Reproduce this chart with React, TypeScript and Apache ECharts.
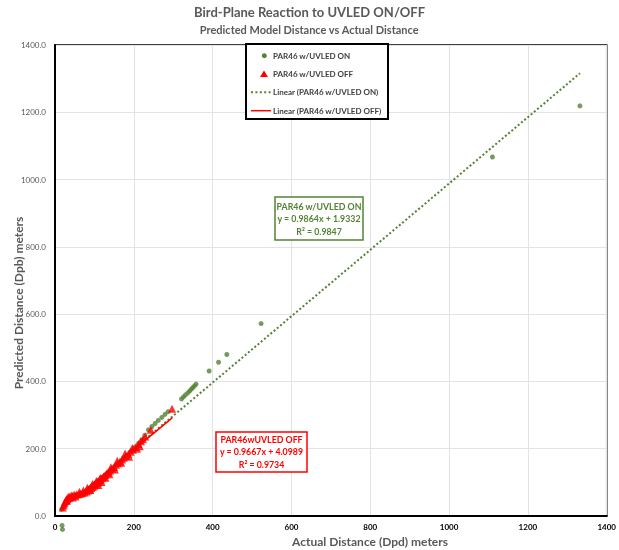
import React, { useEffect, useRef } from "react";
import * as echarts from "echarts";

const titleText = "Bird-Plane Reaction to UVLED ON/OFF";
const subTitleText = "Predicted Model Distance vs Actual Distance";
const xAxisTitle = "Actual Distance (Dpd) meters";
const yAxisTitle = "Predicted Distance (Dpb) meters";

const seriesOnName = "PAR46 w/UVLED ON";
const seriesOffName = "PAR46 w/UVLED OFF";
const trendOnName = "Linear (PAR46 w/UVLED ON)";
const trendOffName = "Linear (PAR46 w/UVLED OFF)";

// PAR46 w/UVLED ON (actual, predicted)
const onData: [number, number][] = [
  [18, -28], [19, -40],
  [17, 20], [22, 30], [27, 42], [33, 52], [39, 57], [46, 61], [55, 63], [65, 67],
  [75, 71], [88, 80], [100, 90], [112, 102], [125, 112], [138, 128], [150, 142],
  [162, 156], [172, 167], [183, 180], [192, 191], [202, 204], [212, 216], [220, 226],
  [228, 240], [237, 256], [246, 266], [254, 275], [262, 284], [271, 293], [279, 302],
  [287, 310], [321, 348], [326, 354], [331, 360], [337, 366], [342, 372], [346, 377],
  [350, 382], [354, 387], [358, 392], [391, 431], [415, 457], [436, 480], [523, 572],
  [1110, 1067], [1332, 1219],
];

// PAR46 w/UVLED OFF (actual, predicted)
const offData: [number, number][] = [
  [20, 25], [22, 32], [24, 38], [26, 44], [29, 50], [32, 54], [35, 57], [38, 59],
  [42, 61], [46, 62], [50, 63], [55, 64], [60, 65], [65, 66], [70, 68], [75, 70],
  [80, 73], [84, 76], [88, 79], [92, 83], [96, 86], [100, 90], [104, 94], [108, 98],
  [112, 102], [116, 107], [120, 112], [124, 117], [128, 122], [132, 127], [136, 131],
  [140, 135], [145, 141], [150, 146], [155, 152], [160, 157], [165, 162], [170, 168],
  [175, 173], [180, 178], [186, 184], [192, 191], [198, 197], [205, 205], [212, 214],
  [218, 222], [223, 228], [229, 236], [243, 256], [297, 319],
  [62, 72], [72, 76], [82, 84], [95, 95], [105, 104], [115, 114], [118, 101], [128, 114],
  [138, 124], [142, 145], [152, 138], [158, 164], [168, 158], [178, 186], [188, 176],
  [196, 202], [208, 200], [215, 207], [45, 55], [52, 58], [30, 45], [90, 77], [110, 92],
];

// trend line equations
const onSlope = 0.9864;
const onIntercept = 1.9332;
const onRange: [number, number] = [17, 1332];
const offSlope = 0.9667;
const offIntercept = 4.0989;
const offRange: [number, number] = [20, 297.5];

const onLabel = ["PAR46 w/UVLED ON", "y = 0.9864x + 1.9332", "R² = 0.9847"];
const offLabel = ["PAR46wUVLED OFF", "y = 0.9667x + 4.0989", "R² = 0.9734"];

const xTicks = [0, 200, 400, 600, 800, 1000, 1200, 1400];
const GREEN = "#548235";
const RED = "#FF0000";
const FONT = "Lato, 'Open Sans', sans-serif";

export default function App() {
  const ref = useRef<HTMLDivElement>(null);
  useEffect(() => {
    if (!ref.current) return;
    const chart = echarts.init(ref.current, null, { renderer: "svg" });
    const onTrend = onRange.map((x) => [x, onSlope * x + onIntercept]);
    const offTrend = offRange.map((x) => [x, offSlope * x + offIntercept]);

    const legendRows = [55.7, 74, 92.3, 110.7];
    const legendText = (name: string, y: number) => ({
      type: "text", x: 273, y, z: 21,
      style: { text: name, fill: "#404040", font: `bold 8px ${FONT}`, verticalAlign: "middle" },
    });

    chart.setOption({
      animation: false,
      textStyle: { fontFamily: FONT },
      grid: {
        left: 55, right: 4, top: 45, bottom: 34,
        show: true, borderColor: "#000", borderWidth: 1.5, backgroundColor: "#fff",
      },
      xAxis: {
        type: "value", min: 0, max: 1400, interval: 200,
        axisLine: { show: true, onZero: false, lineStyle: { color: "#000", width: 2 } },
        axisTick: { show: false },
        splitLine: { show: true, lineStyle: { color: "#e3e3e3", width: 1 } },
        axisLabel: {
          color: "#000", fontSize: 8, fontWeight: "bold", margin: 7, fontFamily: FONT,
          formatter: (v: number) => (xTicks.includes(v) ? String(v) : ""),
        },
      },
      yAxis: {
        type: "value", min: 0, max: 1400, interval: 200,
        axisLine: { show: true, onZero: false, lineStyle: { color: "#000", width: 2 } },
        axisTick: { show: false },
        splitLine: { show: true, lineStyle: { color: "#e3e3e3", width: 1 } },
        axisLabel: {
          color: "#595959", fontSize: 8, margin: 9, fontFamily: FONT,
          formatter: (v: number) => v.toFixed(1),
        },
      },
      series: [
        {
          name: trendOnName, type: "line", data: onTrend, symbol: "none", z: 1,
          lineStyle: { color: GREEN, width: 2, type: [2, 2.2] },
          itemStyle: { color: GREEN },
        },
        {
          name: seriesOnName, type: "scatter", data: onData, symbol: "circle", symbolSize: 5,
          clip: false, z: 2, itemStyle: { color: GREEN },
        },
        {
          name: seriesOffName, type: "scatter", data: offData, symbol: "triangle", symbolSize: 8,
          clip: false, z: 3, itemStyle: { color: RED },
        },
        {
          name: trendOffName, type: "line", data: offTrend, symbol: "none", z: 4,
          lineStyle: { color: RED, width: 1.5 },
          itemStyle: { color: RED },
        },
      ],
      graphic: [
        {
          type: "text", left: "center", top: 5,
          style: { text: titleText, fill: "#595959", font: `bold 13px ${FONT}` },
        },
        {
          type: "text", left: "center", top: 24,
          style: { text: subTitleText, fill: "#595959", font: `bold 11px ${FONT}` },
        },
        {
          type: "text", x: 370, y: 541,
          style: { text: xAxisTitle, fill: "#595959", font: `bold 12px ${FONT}`, align: "center", verticalAlign: "middle" },
        },
        {
          type: "text", x: 18, y: 303, rotation: Math.PI / 2,
          style: { text: yAxisTitle, fill: "#595959", font: `bold 12px ${FONT}`, align: "center", verticalAlign: "middle" },
        },
        // legend box
        {
          type: "rect", shape: { x: 246, y: 44, width: 142, height: 75 }, z: 20,
          style: { fill: "#fff", stroke: "#000", lineWidth: 2 },
        },
        {
          type: "circle", shape: { cx: 264.3, cy: legendRows[0], r: 2.5 }, z: 21,
          style: { fill: GREEN },
        },
        {
          type: "polygon", z: 21,
          shape: { points: [[264, legendRows[1] - 3.5], [268, legendRows[1] + 3], [260, legendRows[1] + 3]] },
          style: { fill: RED },
        },
        {
          type: "line", z: 21,
          shape: { x1: 251, y1: legendRows[2], x2: 271, y2: legendRows[2] },
          style: { stroke: GREEN, lineWidth: 2, lineDash: [2, 2.4] },
        },
        {
          type: "line", z: 21,
          shape: { x1: 251, y1: legendRows[3], x2: 271, y2: legendRows[3] },
          style: { stroke: RED, lineWidth: 1.5 },
        },
        legendText(seriesOnName, legendRows[0]),
        legendText(seriesOffName, legendRows[1]),
        legendText(trendOnName, legendRows[2]),
        legendText(trendOffName, legendRows[3]),
        // trendline labels
        {
          type: "rect", shape: { x: 275, y: 197, width: 88, height: 43 }, z: 10,
          style: { fill: "#fff", stroke: GREEN, lineWidth: 1.5 },
        },
        {
          type: "text", x: 319, y: 218.5, z: 11,
          style: { text: onLabel.join("\n"), fill: GREEN, font: `bold 8.8px ${FONT}`, align: "center", verticalAlign: "middle", lineHeight: 12.5 },
        },
        {
          type: "rect", shape: { x: 216, y: 432, width: 91, height: 40 }, z: 10,
          style: { fill: "#fff", stroke: RED, lineWidth: 1.5 },
        },
        {
          type: "text", x: 261.5, y: 451.7, z: 11,
          style: { text: offLabel.join("\n"), fill: RED, font: `bold 8.8px ${FONT}`, align: "center", verticalAlign: "middle", lineHeight: 12.5 },
        },
      ],
    });
    return () => chart.dispose();
  }, []);
  return <div ref={ref} style={{ position: "fixed", left: 0, top: 0, width: 619, height: 550 }} />;
}
